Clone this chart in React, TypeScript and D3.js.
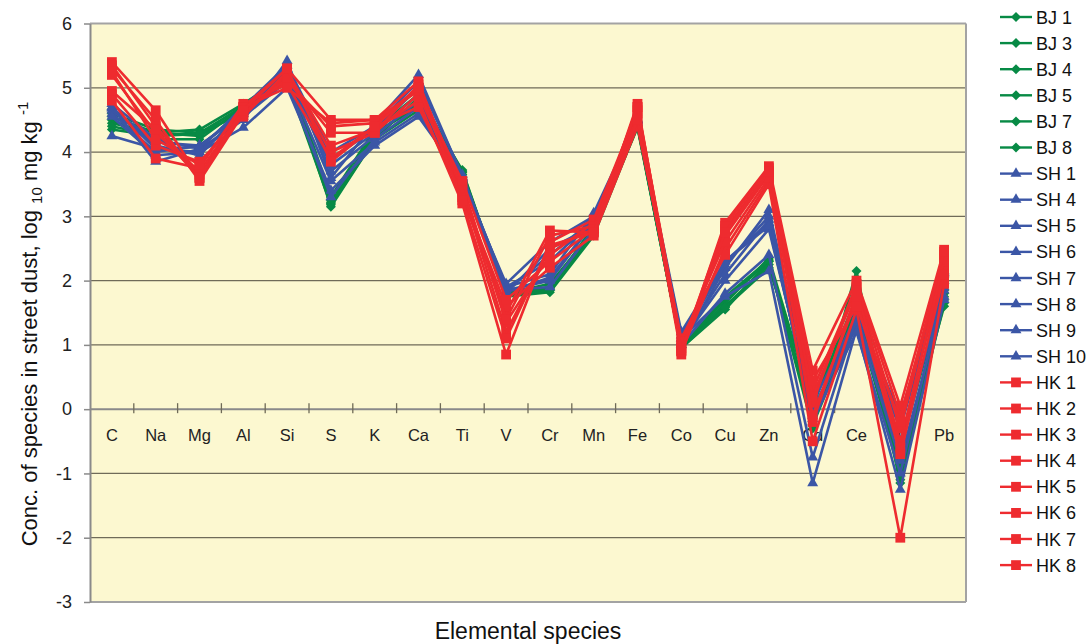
import * as d3 from 'd3';
import { useEffect, useRef } from 'react';

const elements = ['C', 'Na', 'Mg', 'Al', 'Si', 'S', 'K', 'Ca', 'Ti', 'V', 'Cr', 'Mn', 'Fe', 'Co', 'Cu', 'Zn', 'Cd', 'Ce', 'Hg', 'Pb'];
const yTicks = [-3, -2, -1, 0, 1, 2, 3, 4, 5, 6];

// Beijing sites
const bj1 = [4.55, 4.3, 4.35, 4.75, 5.2, 3.15, 4.2, 4.85, 3.72, 1.75, 1.82, 2.7, 4.4, 0.95, 1.55, 2.3, -0.3, 2.15, -1.15, 1.65];
const bj3 = [4.35, 4.25, 4.3, 4.7, 5.25, 3.2, 4.3, 4.7, 3.68, 1.78, 1.85, 2.75, 4.42, 0.98, 1.6, 2.25, -0.1, 1.6, -0.9, 1.7];
const bj4 = [4.45, 4.3, 4.25, 4.65, 5.15, 3.25, 4.25, 4.8, 3.65, 1.8, 1.9, 2.8, 4.4, 0.95, 1.65, 2.35, 0.05, 1.75, -0.6, 1.85];
const bj5 = [4.5, 4.2, 4.2, 4.7, 5.3, 3.3, 4.35, 4.9, 3.7, 1.76, 1.85, 2.72, 4.45, 0.97, 1.7, 2.3, -0.2, 1.5, -0.85, 1.6];
const bj7 = [4.6, 4.35, 4.3, 4.6, 5.1, 3.18, 4.2, 4.65, 3.62, 1.8, 1.95, 2.78, 4.38, 0.95, 1.58, 2.2, 0.15, 1.65, -1.1, 1.75];
const bj8 = [4.4, 4.25, 4.28, 4.72, 5.22, 3.22, 4.28, 4.75, 3.6, 1.77, 1.88, 2.85, 4.42, 0.96, 1.75, 2.32, -0.25, 1.4, -0.95, 1.8];

// Shanghai sites
const sh1 = [4.25, 4.05, 4.0, 4.38, 5.0, 3.4, 4.1, 4.55, 3.6, 1.85, 2.0, 2.9, 4.45, 1.1, 1.75, 2.15, -1.15, 1.25, -1.25, 1.7];
const sh4 = [4.7, 3.85, 4.05, 4.5, 5.42, 3.6, 4.45, 5.2, 3.62, 1.9, 2.1, 3.05, 4.5, 1.2, 2.3, 2.9, -0.1, 1.5, -0.1, 2.15];
const sh5 = [4.6, 4.0, 4.1, 4.6, 5.2, 3.8, 4.3, 4.9, 3.58, 1.85, 2.4, 2.95, 4.48, 1.05, 2.0, 2.8, 0.0, 1.35, -0.3, 2.1];
const sh6 = [4.65, 4.1, 3.95, 4.65, 5.3, 3.9, 4.35, 5.0, 3.55, 1.95, 2.6, 3.0, 4.52, 1.0, 2.2, 3.1, 0.1, 1.45, -0.5, 1.85];
const sh7 = [4.75, 4.2, 4.05, 4.7, 5.35, 4.0, 4.4, 5.1, 3.65, 1.8, 2.5, 2.85, 4.5, 1.1, 2.25, 3.0, -0.2, 1.3, -0.65, 2.0];
const sh8 = [4.55, 3.95, 4.0, 4.55, 5.1, 3.3, 4.2, 4.7, 3.6, 1.85, 1.9, 2.8, 4.45, 1.0, 1.8, 2.4, -0.75, 1.4, -0.8, 1.75];
const sh9 = [4.68, 4.15, 4.1, 4.6, 5.25, 3.7, 4.25, 4.8, 3.62, 1.9, 2.3, 2.95, 4.5, 1.05, 2.1, 2.95, -0.15, 1.2, -1.0, 1.9];
const sh10 = [4.7, 4.05, 4.08, 4.65, 5.15, 3.55, 4.15, 4.6, 3.58, 1.82, 2.05, 2.9, 4.48, 1.15, 2.3, 2.85, -0.05, 1.35, -0.2, 2.12];

// Hong Kong sites
const hk1 = [5.4, 4.65, 3.6, 4.7, 5.3, 4.5, 4.5, 5.1, 3.3, 1.5, 2.78, 2.75, 4.75, 0.9, 2.9, 3.78, 0.6, 2.0, 0.05, 2.48];
const hk2 = [5.3, 4.5, 3.55, 4.6, 5.2, 4.0, 4.3, 4.9, 3.4, 1.2, 2.5, 2.8, 4.7, 1.0, 2.7, 3.65, 0.3, 1.9, -0.3, 2.4];
const hk3 = [5.2, 4.3, 3.7, 4.65, 5.1, 4.4, 4.45, 5.0, 3.5, 1.35, 2.4, 2.9, 4.6, 0.85, 2.8, 3.7, -0.2, 1.8, -0.5, 2.2];
const hk4 = [4.9, 4.1, 3.85, 4.55, 5.25, 4.1, 4.35, 4.8, 3.2, 0.85, 2.6, 2.95, 4.65, 0.9, 2.5, 3.55, 0.1, 1.95, -0.1, 2.3];
const hk5 = [4.8, 3.9, 3.75, 4.75, 5.05, 3.9, 4.4, 4.7, 3.35, 1.6, 2.2, 2.7, 4.4, 1.1, 2.4, 3.5, -0.5, 1.55, -2.0, 1.95];
const hk6 = [5.35, 4.4, 3.65, 4.6, 5.15, 4.3, 4.3, 5.05, 3.45, 1.4, 2.7, 2.85, 4.55, 0.95, 2.85, 3.75, 0.2, 1.85, -0.6, 2.35];
const hk7 = [5.25, 4.2, 3.8, 4.7, 5.0, 4.45, 4.5, 4.95, 3.55, 1.7, 2.3, 2.8, 4.7, 1.05, 2.6, 3.6, -0.1, 1.7, -0.7, 2.1];
const hk8 = [4.95, 4.35, 3.6, 4.65, 5.3, 3.85, 4.4, 5.0, 3.25, 1.1, 2.55, 2.75, 4.5, 0.92, 2.75, 3.7, 0.45, 1.6, -0.2, 2.45];

const GREEN = '#078a45';
const BLUE = '#3b56a6';
const RED = '#ee2b2f';

const series = [
  { name: 'BJ 1', values: bj1, city: 'BJ' },
  { name: 'BJ 3', values: bj3, city: 'BJ' },
  { name: 'BJ 4', values: bj4, city: 'BJ' },
  { name: 'BJ 5', values: bj5, city: 'BJ' },
  { name: 'BJ 7', values: bj7, city: 'BJ' },
  { name: 'BJ 8', values: bj8, city: 'BJ' },
  { name: 'SH 1', values: sh1, city: 'SH' },
  { name: 'SH 4', values: sh4, city: 'SH' },
  { name: 'SH 5', values: sh5, city: 'SH' },
  { name: 'SH 6', values: sh6, city: 'SH' },
  { name: 'SH 7', values: sh7, city: 'SH' },
  { name: 'SH 8', values: sh8, city: 'SH' },
  { name: 'SH 9', values: sh9, city: 'SH' },
  { name: 'SH 10', values: sh10, city: 'SH' },
  { name: 'HK 1', values: hk1, city: 'HK' },
  { name: 'HK 2', values: hk2, city: 'HK' },
  { name: 'HK 3', values: hk3, city: 'HK' },
  { name: 'HK 4', values: hk4, city: 'HK' },
  { name: 'HK 5', values: hk5, city: 'HK' },
  { name: 'HK 6', values: hk6, city: 'HK' },
  { name: 'HK 7', values: hk7, city: 'HK' },
  { name: 'HK 8', values: hk8, city: 'HK' },
];

// square rotated 45 degrees, same width and height
const diamond = {
  draw(context, size) {
    const r = Math.sqrt(size / 2);
    context.moveTo(0, -r);
    context.lineTo(r, 0);
    context.lineTo(0, r);
    context.lineTo(-r, 0);
    context.closePath();
  },
};

const style = {
  BJ: { color: GREEN, symbol: d3.symbol().type(diamond).size(50) },
  SH: { color: BLUE, symbol: d3.symbol().type(d3.symbolTriangle).size(52) },
  HK: { color: RED, symbol: d3.symbol().type(d3.symbolSquare).size(96) },
};

function App() {
  const svgRef = useRef(null);

  useEffect(() => {
    const svg = d3.select(svgRef.current);
    svg.selectAll('*').remove();

    const left = 90, right = 966, top = 23.5, bottom = 602;
    const font = 'Arial, "Liberation Sans", sans-serif';

    const x = d3.scaleBand().domain(elements).range([left, right]);
    const cx = (c) => x(c) + x.bandwidth() / 2;
    const y = d3.scaleLinear().domain([-3, 6]).range([bottom, top]);

    svg.append('rect')
      .attr('x', left).attr('y', top)
      .attr('width', right - left).attr('height', bottom - top)
      .attr('fill', '#fcf8d0');

    // gridlines
    svg.append('g')
      .selectAll('line')
      .data(yTicks.filter(t => t !== 0 && t !== 6 && t !== -3))
      .join('line')
      .attr('x1', left).attr('x2', right)
      .attr('y1', d => y(d)).attr('y2', d => y(d))
      .attr('stroke', '#6f6b58')
      .attr('stroke-width', 1.3);

    // frame
    svg.append('line').attr('x1', left).attr('x2', right).attr('y1', top).attr('y2', top)
      .attr('stroke', '#a3a3a3').attr('stroke-width', 2);
    svg.append('line').attr('x1', right).attr('x2', right).attr('y1', top).attr('y2', bottom)
      .attr('stroke', '#a3a3a3').attr('stroke-width', 2);
    svg.append('line').attr('x1', left).attr('x2', right).attr('y1', bottom).attr('y2', bottom)
      .attr('stroke', '#a3a3a3').attr('stroke-width', 2);

    // y axis
    const yAxis = d3.axisLeft(y).tickValues(yTicks).tickFormat(d => String(d))
      .tickSize(6).tickPadding(12).tickSizeOuter(0);
    const yg = svg.append('g').attr('transform', `translate(${left},0)`).call(yAxis);
    yg.select('.domain').attr('stroke', '#8a8a8a').attr('stroke-width', 2);
    yg.selectAll('.tick line').attr('stroke', '#8a8a8a').attr('stroke-width', 1.5);
    yg.selectAll('.tick text')
      .attr('fill', '#222')
      .style('font-family', font)
      .style('font-size', '18px');

    // x axis at zero with crossing ticks
    const zero = y(0);
    svg.append('line').attr('x1', left).attr('x2', right).attr('y1', zero).attr('y2', zero)
      .attr('stroke', '#8a8a8a').attr('stroke-width', 2);
    svg.append('g')
      .selectAll('line')
      .data(elements.slice(1))
      .join('line')
      .attr('x1', d => x(d)).attr('x2', d => x(d))
      .attr('y1', zero - 6).attr('y2', zero + 4)
      .attr('stroke', '#6f6b58')
      .attr('stroke-width', 1.3);
    svg.append('g')
      .selectAll('text')
      .data(elements)
      .join('text')
      .attr('x', d => cx(d))
      .attr('y', zero + 32)
      .attr('text-anchor', 'middle')
      .attr('fill', '#222')
      .style('font-family', font)
      .style('font-size', '16.5px')
      .text(d => d);

    // series
    const line = d3.line().x((d, i) => cx(elements[i])).y(d => y(d));
    series.forEach(s => {
      const st = style[s.city];
      const g = svg.append('g');
      g.append('path')
        .attr('d', line(s.values))
        .attr('fill', 'none')
        .attr('stroke', st.color)
        .attr('stroke-width', 2.6)
        .attr('stroke-linejoin', 'round');
      g.selectAll('path.m')
        .data(s.values)
        .join('path')
        .attr('class', 'm')
        .attr('transform', (d, i) => `translate(${cx(elements[i])},${y(d)})`)
        .attr('d', st.symbol())
        .attr('fill', st.color);
    });

    // legend
    const lg = svg.append('g');
    series.forEach((s, i) => {
      const st = style[s.city];
      const ly = 17 + i * 26.1;
      lg.append('line')
        .attr('x1', 1000).attr('x2', 1032).attr('y1', ly).attr('y2', ly)
        .attr('stroke', st.color).attr('stroke-width', 2.4);
      lg.append('path')
        .attr('transform', `translate(1016,${ly})`)
        .attr('d', st.symbol())
        .attr('fill', st.color);
      lg.append('text')
        .attr('x', 1036).attr('y', ly + 6.5)
        .attr('fill', '#111')
        .style('font-family', font)
        .style('font-size', '18px')
        .text(s.name);
    });

    // axis titles
    svg.append('text')
      .attr('x', (left + right) / 2)
      .attr('y', 639)
      .attr('text-anchor', 'middle')
      .attr('fill', '#111')
      .style('font-family', font)
      .style('font-size', '23px')
      .text('Elemental species');

    const yt = svg.append('text')
      .attr('transform', 'translate(37,324) rotate(-90)')
      .attr('text-anchor', 'middle')
      .attr('fill', '#111')
      .style('font-family', font)
      .style('font-size', '22px');
    yt.append('tspan').text('Conc. of species in street dust, log ');
    yt.append('tspan').attr('dy', 5).style('font-size', '15px').text('10');
    yt.append('tspan').attr('dy', -5).text(' mg kg ');
    yt.append('tspan').attr('dy', -9).style('font-size', '15px').text('-1');
  }, []);

  return (
    <svg
      ref={svgRef}
      width={1086}
      height={644}
      style={{ position: 'absolute', left: 0, top: 0, background: '#fff' }}
    />
  );
}

export default App;
